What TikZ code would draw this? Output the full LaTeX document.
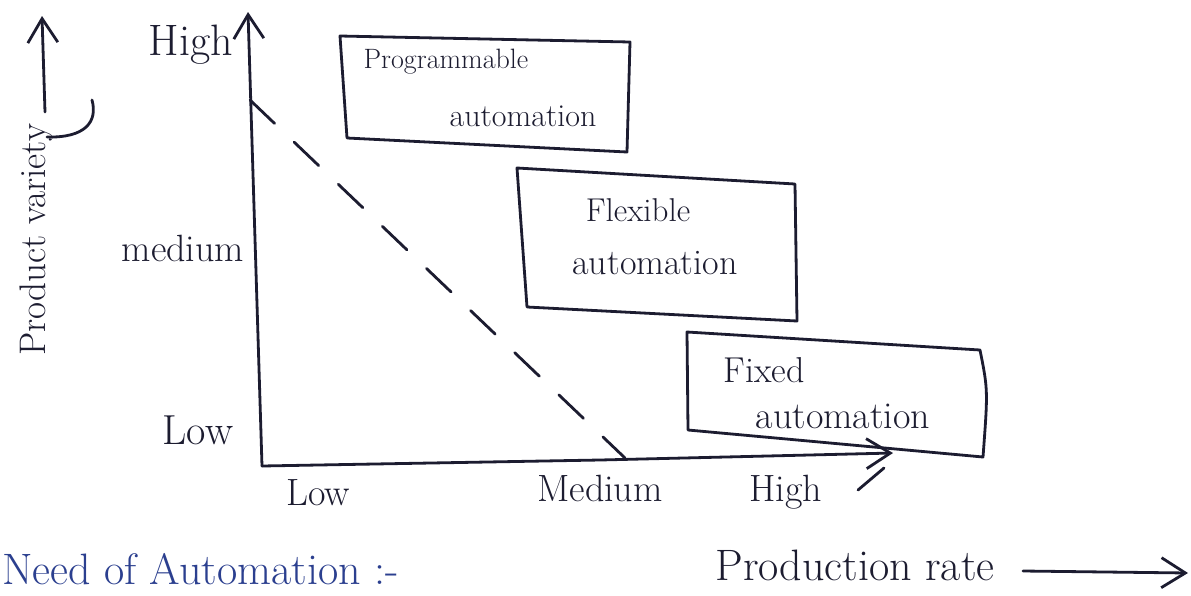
\documentclass[tikz,border=0pt]{standalone}
\usetikzlibrary{arrows.meta}
\definecolor{inkc}{HTML}{1C1C30}
\definecolor{bluec}{HTML}{2B3F8F}
\begin{document}
\begin{tikzpicture}[x=1pt,y=-1pt,
  ink/.style={draw=inkc,line width=2.8pt,line cap=round,line join=round},
  barb/.style={-{Straight Barb[length=24pt,width=30pt,line width=2.8pt]}},
  hw/.style={text=inkc,inner sep=0pt,font=\fontsize{#1}{#1}\selectfont},
  hw/.default=28]
\useasboundingbox (0,0) rectangle (1191,595);
\fill[white] (0,0) rectangle (1191,595);

% axes
\coordinate (O) at (262,466);
\coordinate (ytop) at (248,12);
\coordinate (xend) at (893,453);
\draw[ink,barb] (O) -- (ytop);
\draw[ink,barb] (O) -- (600,460) -- (xend);
\coordinate (s1) at (858,490);
\coordinate (s2) at (884,468);
\draw[ink] (s1) -- (s2);

% dashed line
\coordinate (d1) at (250,100);
\coordinate (d2) at (625,458);
\draw[ink,dash pattern=on 34pt off 27pt] (d1) -- (d2);

% y labels
\node[hw=44] (yhigh) at (191,45) {High};
\node[hw=38] (ymed) at (183,248) {medium};
\node[hw=42] (ylow) at (198,430) {Low};
% x labels
\node[hw=38] (xlow) at (318,493) {Low};
\node[hw=38] (xmed) at (600,488) {Medium};
\node[hw=38] (xhigh) at (786,492) {High};

% product variety
\node[hw=37,rotate=90] (pv) at (36,240) {Product variety};
\coordinate (pa1) at (45,112);
\coordinate (pa2) at (42,16);
\draw[ink,barb] (pa1) -- (pa2);
\coordinate (c1) at (47,137);
\coordinate (c2) at (92,100);
\draw[ink] (c1) .. controls (85,138) and (98,122) .. (c2);

% boxes
\draw[ink] (340,36) -- (630,42) -- (627,152) -- (347,138) -- cycle;
\node[hw=28] (p1) at (446,62) {Programmable};
\node[hw=32] (p2) at (523,116) {automation};

\draw[ink] (517,168) -- (795,184) -- (797,321) -- (527,307) -- cycle;
\node[hw=33] (f1) at (638,210) {Flexible};
\node[hw=36] (f2) at (655,263) {automation};

\draw[ink] (687,332) -- (980,350) .. controls (988,390) .. (983,457) -- (688,430) -- cycle;
\node[hw=36] (x1) at (764,370) {Fixed};
\node[hw=38] (x2) at (843,416) {automation};

% bottom
\node[text=bluec,inner sep=0pt,font=\fontsize{44}{44}\selectfont,anchor=base west] (need) at (2,584) {Need of Automation :-};
\node[hw=44] (prate) at (855,565) {Production rate};
\coordinate (r1) at (1023,571);
\coordinate (r2) at (1188,573);
\draw[ink,barb] (r1) -- (r2);
\end{tikzpicture}
\end{document}
